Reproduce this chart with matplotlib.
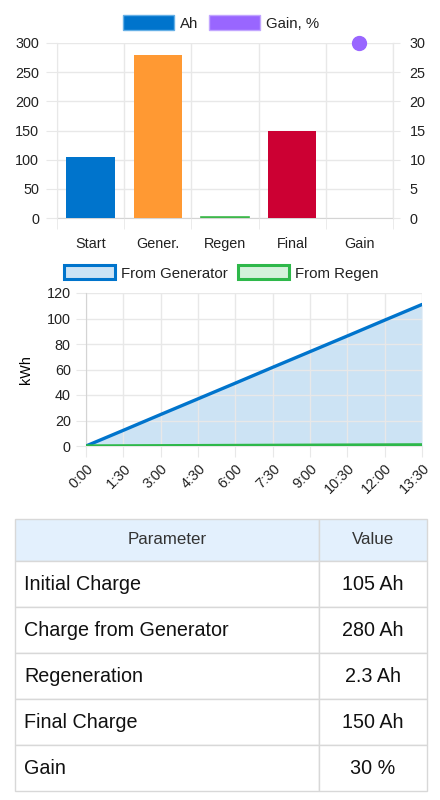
import matplotlib
matplotlib.use('Agg')
import matplotlib.pyplot as plt
import numpy as np
from matplotlib.patches import Patch

plt.rcParams['font.family'] = ['Liberation Sans', 'DejaVu Sans']
plt.rcParams['text.color'] = '#222222'
plt.rcParams['xtick.color'] = '#222222'
plt.rcParams['ytick.color'] = '#222222'

# --- data ---
bar_categories = ["Start", "Gener.", "Regen", "Final", "Gain"]
bar_values_ah = [105, 280, 2.3, 150, 0]
bar_colors = ["#0074CC", "#FF9933", "#3DB84A", "#CC0033", "#9966FF"]
gain_pct = 30

time_labels = ["0:00", "1:30", "3:00", "4:30", "6:00", "7:30", "9:00", "10:30", "12:00", "13:30"]
from_generator = [0, 12.3, 24.7, 37.0, 49.3, 61.7, 74.0, 86.3, 98.7, 111.0]
from_regen = [0, 0.1, 0.2, 0.3, 0.4, 0.5, 0.6, 0.7, 0.8, 0.9]

table_header = ["Parameter", "Value"]
table_rows = [
    ["Initial Charge", "105 Ah"],
    ["Charge from Generator", "280 Ah"],
    ["Regeneration", "2.3 Ah"],
    ["Final Charge", "150 Ah"],
    ["Gain", "30 %"],
]

GRID = '#E8E8E8'
BORDER = '#D4D4D4'
TICK_FS = 10.4
LEG_FS = 10.8

fig = plt.figure(figsize=(4.4, 8), dpi=100)
W, H = 440, 800

def px_axes(x0, y0, x1, y1):
    return fig.add_axes([x0 / W, 1 - y1 / H, (x1 - x0) / W, (y1 - y0) / H])

# --- top bar chart ---
ax1 = px_axes(57, 43, 393, 218)
x = np.arange(len(bar_categories))
# thin bars (Regen) get an edge so they stay visible, zero bars get none
edge_w = [1.2 if 0 < v < 5 else 0 for v in bar_values_ah]
ax1.bar(x, bar_values_ah, width=0.72, color=bar_colors, edgecolor=bar_colors,
        linewidth=edge_w, zorder=3)
ax1.set_xlim(-0.5, len(bar_categories) - 0.5)
ax1.set_ylim(0, 300)
ax1.set_yticks(range(0, 301, 50))
ax1.set_xticks(x)
ax1.set_xticklabels(bar_categories, fontsize=TICK_FS)
ax1.set_xticks(np.arange(-0.5, len(bar_categories), 1), minor=True)
ax1.tick_params(axis='x', which='major', length=0, pad=14)
ax1.tick_params(axis='x', which='minor', length=8, color=GRID)
ax1.tick_params(axis='y', length=8, color=GRID, pad=5, labelsize=TICK_FS)
ax1.grid(True, axis='y', color=GRID, lw=1, zorder=0)
ax1.grid(True, axis='x', which='minor', color=GRID, lw=1, zorder=0)
ax1.spines['top'].set_visible(False)
for side in ['left', 'right']:
    ax1.spines[side].set_color(GRID)
ax1.spines['bottom'].set_color(BORDER)
ax1.spines['bottom'].set_zorder(1)

ax1r = ax1.twinx()
ax1r.set_ylim(0, 30)
ax1r.set_yticks(range(0, 31, 5))
ax1r.plot([x[-1]], [gain_pct], 'o', color='#9966FF', markersize=10, zorder=3, clip_on=False)
ax1r.tick_params(axis='y', length=5, color=GRID, pad=7, labelsize=TICK_FS)
for side in ['top', 'left', 'bottom']:
    ax1r.spines[side].set_visible(False)
ax1r.spines['right'].set_color(GRID)

fig.legend(
    handles=[Patch(facecolor='#0074CC', edgecolor='#66B0E6', lw=1),
             Patch(facecolor='#9966FF', edgecolor='#C2A6FF', lw=1)],
    labels=['Ah', 'Gain, %'],
    loc='center', bbox_to_anchor=(221 / W, 1 - 23 / H), ncol=2, frameon=False,
    fontsize=LEG_FS, handlelength=3.4, handleheight=1.15, handletextpad=0.4,
    columnspacing=0.7, borderpad=0)

# --- bottom line chart ---
ax2 = px_axes(86, 293, 422, 446)
t = np.arange(len(time_labels))
ax2.fill_between(t, from_generator, 0, color='#0074CC', alpha=0.2, lw=0, zorder=1)
ax2.plot(t, from_generator, color='#0074CC', lw=2.4, zorder=3, solid_capstyle='round')
ax2.fill_between(t, from_regen, 0, color='#2EB84A', alpha=0.2, lw=0, zorder=1)
ax2.plot(t, from_regen, color='#2EB84A', lw=2.4, zorder=3, solid_capstyle='round')
ax2.set_xlim(0, len(time_labels) - 1)
ax2.set_ylim(0, 120)
ax2.set_yticks(range(0, 121, 20))
ax2.set_xticks(t)
ax2.set_xticklabels(time_labels, rotation=45, ha='right', rotation_mode='anchor', fontsize=TICK_FS)
ax2.tick_params(axis='x', length=8, color=GRID, pad=3)
ax2.tick_params(axis='y', length=7, color=GRID, pad=4, labelsize=TICK_FS)
ax2.grid(True, color=GRID, lw=1, zorder=0)
ax2.set_ylabel('kWh', fontsize=TICK_FS, labelpad=10)
for side in ['top', 'right']:
    ax2.spines[side].set_visible(False)
ax2.spines['left'].set_color(BORDER)
ax2.spines['bottom'].set_color(GRID)

fig.legend(
    handles=[Patch(facecolor='#CCE3F5', edgecolor='#0074CC', lw=2.2),
             Patch(facecolor='#D5F1DB', edgecolor='#2EB84A', lw=2.2)],
    labels=['From Generator', 'From Regen'],
    loc='center', bbox_to_anchor=(221 / W, 1 - 273 / H), ncol=2, frameon=False,
    fontsize=LEG_FS, handlelength=3.4, handleheight=1.05, handletextpad=0.4,
    columnspacing=0.7, borderpad=0)

# --- table ---
ax3 = px_axes(15, 519, 427, 791)
ax3.axis('off')
tbl = ax3.table(cellText=table_rows, colLabels=table_header,
                colWidths=[304, 108], bbox=[0, 0, 1, 1])
tbl.auto_set_font_size(False)
for (r, c), cell in tbl.get_celld().items():
    cell.set_edgecolor('#D8D8D8')
    cell.set_linewidth(1)
    cell.set_height(42 if r == 0 else 46)
    txt = cell.get_text()
    if r == 0:
        cell.set_facecolor('#E3F0FD')
        txt.set_fontsize(12.2)
        txt.set_color('#333333')
        cell._loc = 'center'
        txt.set_ha('center')
    else:
        cell.set_facecolor('white')
        txt.set_fontsize(14.2)
        txt.set_color('#111111')
        if c == 0:
            cell._loc = 'left'
            txt.set_ha('left')
            cell.PAD = 9 / 304
        else:
            cell._loc = 'center'
            txt.set_ha('center')

fig.savefig('out.png', dpi=100)
